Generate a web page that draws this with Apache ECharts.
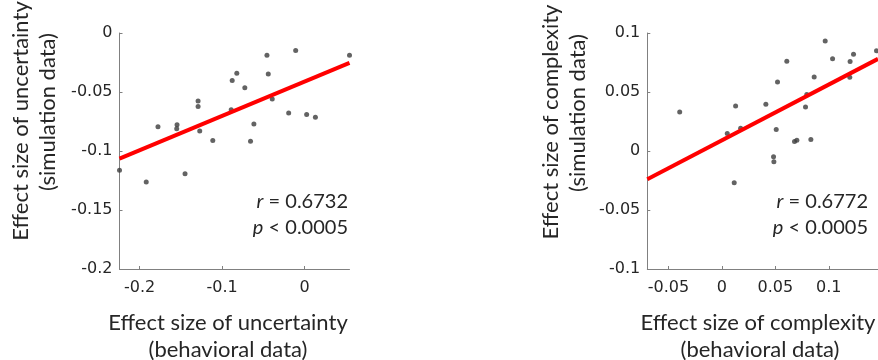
<!DOCTYPE html>
<html>
<head>
<meta charset="utf-8">
<script src="https://cdn.jsdelivr.net/npm/echarts@6/dist/echarts.min.js"></script>
<style>html,body{margin:0;padding:0;background:#fff}#c{width:878px;height:360px}</style>
</head>
<body>
<div id="c"></div>
<script>
// ---- data: left panel (uncertainty) ----
var unc_behav = [-0.2243,-0.1919,-0.1777,-0.1546,-0.1550,-0.1449,-0.1291,-0.1291,-0.1271,-0.1113,-0.0890,-0.0878,-0.0822,-0.0725,-0.0656,-0.0615,-0.0457,-0.0441,-0.0393,-0.0194,-0.0109,0.0024,0.0130,0.0543];
var unc_sim   = [-0.1163,-0.1262,-0.0795,-0.0778,-0.0811,-0.1192,-0.0577,-0.0622,-0.0831,-0.0910,-0.0651,-0.0402,-0.0341,-0.0465,-0.0918,-0.0772,-0.0189,-0.0347,-0.0560,-0.0679,-0.0149,-0.0690,-0.0715,-0.0189];
var unc_fit = {slope: 0.291, intercept: -0.0412};
var unc_xlim = [-0.2243, 0.0543];
var unc_ylim = [-0.2, 0];
var unc_xticks = [-0.2, -0.1, 0];
var unc_yticks = [-0.2, -0.15, -0.1, -0.05, 0];
var unc_stats = ['0.6732', '0.0005'];

// ---- data: right panel (complexity) ----
var cpx_behav = [-0.0395,0.0050,0.0128,0.0115,0.0175,0.0411,0.0520,0.0508,0.0483,0.0486,0.0607,0.0679,0.0701,0.0782,0.0794,0.0832,0.0863,0.0966,0.1035,0.1199,0.1196,0.1231,0.1446];
var cpx_sim   = [0.0330,0.0148,0.0381,-0.0269,0.0193,0.0397,0.0585,0.0182,-0.0048,-0.0092,0.0761,0.0081,0.0092,0.0372,0.0479,0.0097,0.0627,0.0933,0.0782,0.0759,0.0624,0.0820,0.0849];
var cpx_fit = {slope: 0.473, intercept: 0.009};
var cpx_xlim = [-0.0698, 0.146];
var cpx_ylim = [-0.1, 0.1];
var cpx_xticks = [-0.05, 0, 0.05, 0.1];
var cpx_yticks = [-0.1, -0.05, 0, 0.05, 0.1];
var cpx_stats = ['0.6772', '0.0005'];

var TXT = '#262626', AX = '#808080', DOT = '#3c3c3c';
var TICKFONT = 'DejaVu Sans', LABFONT = 'Lato';

function pairs(xs, ys){ return xs.map(function(x,i){ return [x, ys[i]]; }); }
function fitLine(f, lim){ return lim.map(function(x){ return [x, f.intercept + f.slope*x]; }); }
function fmt(v){ return String(+(+v).toFixed(4)); }

function xAxis(idx, lim, ticks){
  return {type:'value', gridIndex:idx, min:lim[0], max:lim[1],
    axisLine:{show:true, onZero:false, lineStyle:{color:AX, width:1}},
    axisTick:{show:true, inside:true, length:3, lineStyle:{color:AX}, customValues:ticks},
    axisLabel:{customValues:ticks, formatter:fmt, color:TXT, fontFamily:TICKFONT, fontSize:16, margin:11},
    splitLine:{show:false}};
}
function yAxis(idx, lim, ticks){
  return {type:'value', gridIndex:idx, min:lim[0], max:lim[1],
    axisLine:{show:true, onZero:false, lineStyle:{color:AX, width:1}},
    axisTick:{show:true, inside:true, length:3, lineStyle:{color:AX}, customValues:ticks},
    axisLabel:{customValues:ticks, formatter:fmt, color:TXT, fontFamily:TICKFONT, fontSize:16, margin:7},
    splitLine:{show:false}};
}

function statText(x, y, letter, op, val){
  return {type:'text', x:x, y:y, style:{
    text:'{i|'+letter+'} '+op+' '+val, align:'right', verticalAlign:'middle',
    fill:TXT, fontFamily:LABFONT, fontSize:20,
    rich:{i:{fontStyle:'italic', fontFamily:LABFONT, fontSize:20, fill:TXT}}}};
}
function label(x, y, text, rot){
  return {type:'text', x:x, y:y, rotation:rot||0, style:{text:text, align:'center', verticalAlign:'middle',
    fill:TXT, fontFamily:LABFONT, fontSize:22}};
}

var chart = echarts.init(document.getElementById('c'), null, {renderer:'canvas'});
chart.setOption({
  animation:false,
  backgroundColor:'#fff',
  grid:[{left:119.5, top:33, width:230, height:236},
        {left:647.3, top:33, width:231, height:236}],
  xAxis:[xAxis(0, unc_xlim, unc_xticks), xAxis(1, cpx_xlim, cpx_xticks)],
  yAxis:[yAxis(0, unc_ylim, unc_yticks), yAxis(1, cpx_ylim, cpx_yticks)],
  series:[
    {type:'scatter', xAxisIndex:0, yAxisIndex:0, data:pairs(unc_behav, unc_sim), symbolSize:5, itemStyle:{color:DOT}, z:2},
    {type:'line', xAxisIndex:0, yAxisIndex:0, data:fitLine(unc_fit, unc_xlim), symbol:'none', lineStyle:{color:'#ff0000', width:4}, z:3},
    {type:'scatter', xAxisIndex:1, yAxisIndex:1, data:pairs(cpx_behav, cpx_sim), symbolSize:5, itemStyle:{color:DOT}, z:2},
    {type:'line', xAxisIndex:1, yAxisIndex:1, data:fitLine(cpx_fit, cpx_xlim), symbol:'none', lineStyle:{color:'#ff0000', width:4}, z:3}
  ],
  graphic:[
    statText(348, 202, 'r', '=', unc_stats[0]),
    statText(348, 228, 'p', '<', unc_stats[1]),
    statText(868, 202, 'r', '=', cpx_stats[0]),
    statText(868, 228, 'p', '<', cpx_stats[1]),
    label(228, 323, 'Effect size of uncertainty'),
    label(228, 350, '(behavioral data)'),
    label(758, 323, 'Effect size of complexity'),
    label(760, 350, '(behavioral data)'),
    label(21, 121, 'Effect size of uncertainty', Math.PI/2),
    label(48, 112, '(simulation data)', Math.PI/2),
    label(551, 122, 'Effect size of complexity', Math.PI/2),
    label(578, 113, '(simulation data)', Math.PI/2)
  ]
});
</script>
</body>
</html>
